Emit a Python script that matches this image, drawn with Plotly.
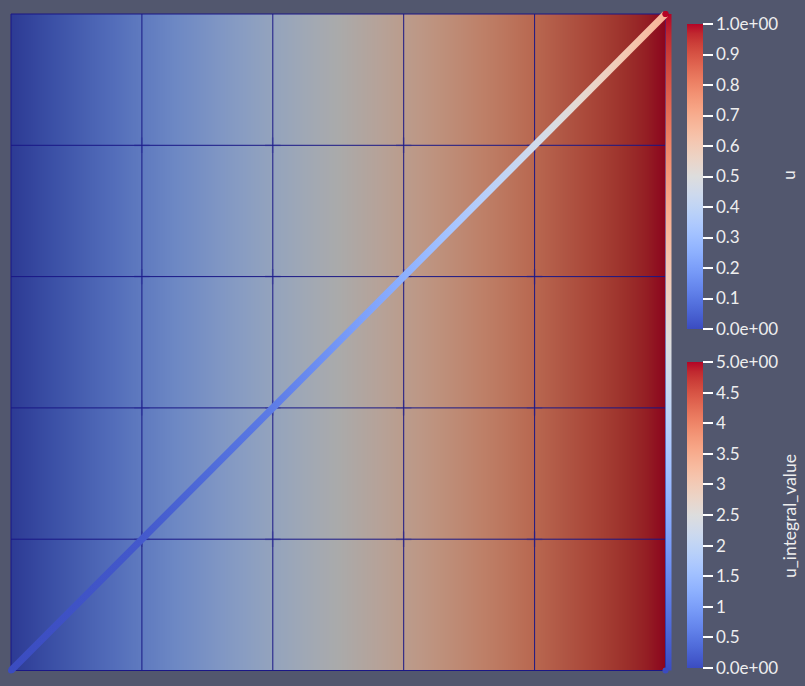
import plotly.graph_objects as go

# ---------------- data ----------------
x_nodes = [0.0, 0.2, 0.4, 0.6, 0.8, 1.0]          # mesh node x positions
y_nodes = [0.0, 0.2, 0.4, 0.6, 0.8, 1.0]          # mesh node y positions
u_nodes = [0.0, 0.2, 0.4, 0.6, 0.8, 1.0]          # field u at node columns (u = x)

line_x = [0.0, 0.2, 0.4, 0.6, 0.8, 1.0]           # diagonal line nodes
line_y = [0.0, 0.2, 0.4, 0.6, 0.8, 1.0]
line_c = [0.0, 0.03, 0.11, 0.25, 0.45, 0.68]      # colour value along the diagonal (u scale)

edge_x = [1.0, 1.0]                                # right-edge strip
edge_y = [0.0, 1.0]
edge_val = [0.0, 5.0]                              # u_integral_value along strip

u_tickvals = [0.0, 0.1, 0.2, 0.3, 0.4, 0.5, 0.6, 0.7, 0.8, 0.9, 1.0]
u_ticktext = ["0.0e+00", "0.1", "0.2", "0.3", "0.4", "0.5", "0.6", "0.7", "0.8", "0.9", "1.0e+00"]
int_tickvals = [0.0, 0.5, 1.0, 1.5, 2.0, 2.5, 3.0, 3.5, 4.0, 4.5, 5.0]
int_ticktext = ["0.0e+00", "0.5", "1", "1.5", "2", "2.5", "3", "3.5", "4", "4.5", "5.0e+00"]

# ---------------- style ----------------
W, H = 805, 686
BG = "#52576E"
TXT = "#EEEEEE"
FONT = "Lato"

COOLWARM_RGB = [
    (59, 76, 192), (68, 90, 204), (77, 104, 215), (87, 117, 225), (98, 130, 234),
    (108, 142, 241), (119, 154, 247), (130, 165, 251), (141, 176, 254), (152, 185, 255),
    (163, 194, 255), (174, 201, 253), (184, 208, 249), (194, 213, 244), (204, 217, 238),
    (213, 219, 230), (221, 221, 221), (229, 216, 209), (236, 211, 197), (241, 204, 185),
    (245, 196, 173), (247, 187, 160), (247, 177, 148), (247, 166, 135), (244, 154, 123),
    (241, 141, 111), (236, 127, 99), (229, 112, 88), (222, 96, 77), (213, 80, 66),
    (203, 62, 56), (192, 40, 47), (180, 4, 38),
]


def make_scale(factor):
    n = len(COOLWARM_RGB) - 1
    return [[i / n, "rgb(%d,%d,%d)" % tuple(round(c * factor) for c in rgb)]
            for i, rgb in enumerate(COOLWARM_RGB)]


def coolwarm_at(v):
    n = len(COOLWARM_RGB) - 1
    v = min(max(v, 0.0), 1.0) * n
    i = min(int(v), n - 1)
    f = v - i
    a, b = COOLWARM_RGB[i], COOLWARM_RGB[i + 1]
    return "rgb(%d,%d,%d)" % tuple(round(a[k] + (b[k] - a[k]) * f) for k in range(3))


COOLWARM = make_scale(1.0)
COOLWARM_SHADED = make_scale(0.77)

# colour ramp of the diagonal along x (scalar interpolated between nodes, then mapped)
SUB = 6
diag_scale = []
for i in range(len(line_x) - 1):
    for s in range(SUB):
        t = s / SUB
        pos = line_x[i] + (line_x[i + 1] - line_x[i]) * t
        val = line_c[i] + (line_c[i + 1] - line_c[i]) * t
        diag_scale.append([pos, coolwarm_at(val)])
diag_scale.append([line_x[-1], coolwarm_at(line_c[-1])])

# pixel geometry of the square domain
PX_X0, PX_X1 = 11.0, 665.5       # data x = 0 .. 1
PX_Y0, PX_Y1 = 670.5, 14.0       # data y = 0 .. 1
PAD = 0.015                      # extra range for overlay axes
SX = PX_X1 - PX_X0
SY = PX_Y0 - PX_Y1
LINE_W = 7.0                     # px
STRIP_W = 6.0                    # px

fig = go.Figure()

# shaded surface coloured by u
fig.add_trace(go.Heatmap(
    x=x_nodes, y=y_nodes, z=[list(u_nodes) for _ in y_nodes],
    zmin=0, zmax=1, colorscale=COOLWARM_SHADED, zsmooth="best",
    showscale=False, hoverinfo="skip", xaxis="x", yaxis="y",
))

# mesh lines
gx, gy = [], []
for xv in x_nodes:
    gx += [xv, xv, None]
    gy += [y_nodes[0], y_nodes[-1], None]
for yv in y_nodes:
    gx += [x_nodes[0], x_nodes[-1], None]
    gy += [yv, yv, None]
fig.add_trace(go.Scatter(x=gx, y=gy, mode="lines",
                         line=dict(color="#1A1786", width=1),
                         hoverinfo="skip", showlegend=False, xaxis="x2", yaxis="y2"))

# faint glow at interior node crossings
ix, iy = [], []
for xv in x_nodes[1:-1]:
    for yv in y_nodes[1:-1]:
        ix.append(xv)
        iy.append(yv)
fig.add_trace(go.Scatter(x=ix, y=iy, mode="markers",
                         marker=dict(symbol="cross-thin", size=11,
                                     line=dict(width=2, color="rgba(30,30,150,0.22)")),
                         hoverinfo="skip", showlegend=False, xaxis="x2", yaxis="y2"))

# right-edge strip (u_integral_value), vertical gradient
sw = STRIP_W / SX
sx_poly = [edge_x[0], edge_x[0] + sw, edge_x[1] + sw, edge_x[1], edge_x[0]]
sy_poly = [edge_y[0], edge_y[0], edge_y[1], edge_y[1], edge_y[0]]
fig.add_trace(go.Scatter(
    x=sx_poly, y=sy_poly, mode="lines", fill="toself",
    line=dict(width=0, color="rgba(0,0,0,0)"),
    fillgradient=dict(type="vertical", colorscale=COOLWARM,
                      start=edge_y[0], stop=edge_y[1]),
    hoverinfo="skip", showlegend=False, xaxis="x2", yaxis="y2"))

# diagonal line, horizontal gradient band
hw = LINE_W / 2.0 / (2 ** 0.5)
nx, ny = -hw / SX, hw / SY
x0, x1, y0, y1 = line_x[0], line_x[-1], line_y[0], line_y[-1]
lx_poly = [x0 + nx, x1 + nx, x1 - nx, x0 - nx, x0 + nx]
ly_poly = [y0 + ny, y1 + ny, y1 - ny, y0 - ny, y0 + ny]
fig.add_trace(go.Scatter(
    x=lx_poly, y=ly_poly, mode="lines", fill="toself",
    line=dict(width=0, color="rgba(0,0,0,0)"),
    fillgradient=dict(type="horizontal", colorscale=diag_scale, start=x0, stop=x1),
    hoverinfo="skip", showlegend=False, xaxis="x2", yaxis="y2"))

tickfont = dict(family=FONT, size=17, color=TXT)


def cbar(top_px, len_px, tickvals, ticktext):
    return dict(x=687 / W, xanchor="left", xpad=0,
                y=1 - top_px / H, yanchor="top", ypad=0,
                len=len_px, lenmode="pixels", thickness=16, thicknessmode="pixels",
                outlinewidth=0, borderwidth=0, bgcolor="rgba(0,0,0,0)",
                tickmode="array", tickvals=tickvals, ticktext=ticktext,
                ticks="outside", ticklen=10, tickwidth=2, tickcolor="#FFFFFF",
                tickfont=tickfont)


# colour bars (hosted by invisible markers)
fig.add_trace(go.Scatter(
    x=[x_nodes[0], x_nodes[-1]], y=[y_nodes[0], y_nodes[-1]], mode="markers",
    marker=dict(size=0, color=[u_nodes[0], u_nodes[-1]], cmin=0, cmax=1, colorscale=COOLWARM,
                showscale=True, colorbar=cbar(24, 305, u_tickvals, u_ticktext)),
    hoverinfo="skip", showlegend=False, xaxis="x2", yaxis="y2"))
fig.add_trace(go.Scatter(
    x=edge_x, y=edge_y, mode="markers",
    marker=dict(size=0, color=edge_val, cmin=0, cmax=5, colorscale=COOLWARM,
                showscale=True, colorbar=cbar(362, 306, int_tickvals, int_ticktext)),
    hoverinfo="skip", showlegend=False, xaxis="x2", yaxis="y2"))

ax_off = dict(visible=False, showgrid=False, zeroline=False, fixedrange=True)
fig.update_layout(
    width=W, height=H, autosize=False,
    margin=dict(l=0, r=0, t=0, b=0, pad=0, autoexpand=False),
    paper_bgcolor=BG, plot_bgcolor="rgba(0,0,0,0)",
    showlegend=False,
    xaxis=dict(domain=[PX_X0 / W, PX_X1 / W], range=[0, 1], anchor="y", **ax_off),
    yaxis=dict(domain=[(H - PX_Y0) / H, (H - PX_Y1) / H], range=[0, 1], anchor="x", **ax_off),
    xaxis2=dict(domain=[(PX_X0 - PAD * SX) / W, (PX_X1 + PAD * SX) / W],
                range=[-PAD, 1 + PAD], anchor="y2", **ax_off),
    yaxis2=dict(domain=[(H - PX_Y0 - PAD * SY) / H, (H - PX_Y1 + PAD * SY) / H],
                range=[-PAD, 1 + PAD], anchor="x2", **ax_off),
    annotations=[
        dict(text="u", x=789 / W, y=1 - 175 / H, xref="paper", yref="paper",
             xanchor="center", yanchor="middle", textangle=-90, showarrow=False,
             font=dict(family=FONT, size=17.5, color=TXT)),
        dict(text="u_integral_value", x=789 / W, y=1 - 516 / H, xref="paper", yref="paper",
             xanchor="center", yanchor="middle", textangle=-90, showarrow=False,
             font=dict(family=FONT, size=17.5, color=TXT)),
    ],
)

fig.write_html(
    "out.html",
    config={"displayModeBar": False, "staticPlot": True},
    post_script="document.body.style.margin='0';document.body.style.overflow='hidden';",
)
